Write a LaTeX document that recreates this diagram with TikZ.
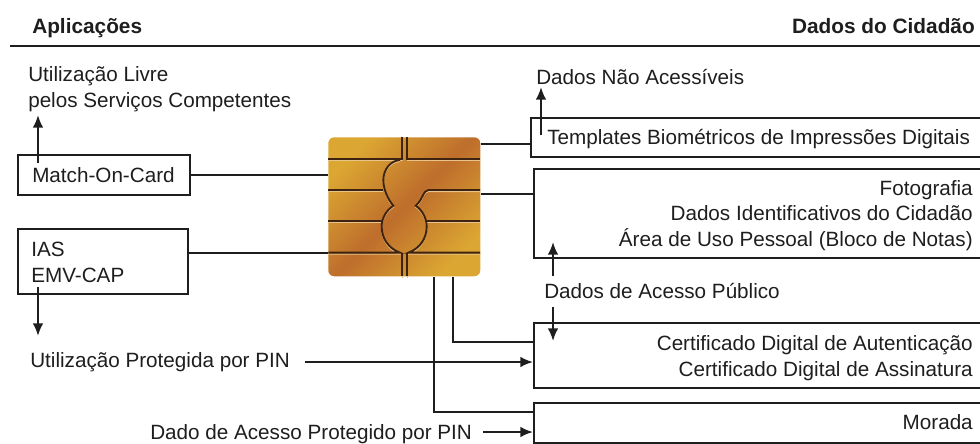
\documentclass[tikz,border=0pt]{standalone}
\usepackage{fontspec}
\setmainfont{Liberation Sans}
\definecolor{ink}{HTML}{1E1E1E}
\definecolor{gold}{HTML}{DBA632}
\definecolor{copper}{HTML}{BE6E2C}
\definecolor{groove}{HTML}{3E2410}
\definecolor{shine}{HTML}{E8C48A}
\tikzset{
  x=0.75pt,y=-0.75pt,
  wire/.style={draw=ink,line width=1.5pt},
  arrowwire/.style={wire,-{Latex[length=9.5pt,width=8pt]}},
  databox/.style={draw=ink,line width=1.5pt,rectangle,inner sep=0pt,anchor=north west},
  label/.style={font=\fontsize{15.5pt}{19pt}\selectfont,text=ink,inner sep=0pt},
  head/.style={font=\bfseries\fontsize{15.6pt}{17pt}\selectfont,text=ink,inner sep=0pt},
  chipline/.style={draw=groove,line width=1.4pt},
  chipshine/.style={draw=shine,line width=0.8pt},
}
\usetikzlibrary{arrows.meta,calc}
\begin{document}
\begin{tikzpicture}
\useasboundingbox (0,0) rectangle (980,443);
% header
\node[head,anchor=base west] (happ) at (32,33.5) {Aplicações};
\node[head,anchor=base east] (hdad) at (975,33.5) {Dados do Cidadão};
\coordinate (ruleL) at (10,45.5); \coordinate (ruleR) at (980,45.5);
\draw[wire] (ruleL) -- (ruleR);
% chip
\node[rectangle,rounded corners=4.5pt,minimum width=114pt,minimum height=104.25pt,inner sep=0pt,anchor=north west,
  left color=gold,right color=gold,middle color=copper,shading angle=45] (chip) at (328,137) {};
\begin{scope}[shift={(300,110)},x=0.25pt,y=-0.25pt]
 \foreach \p/\s in {chipshine/4.5,chipline/0}{
 \begin{scope}[yshift=-\s*0.25pt]
 \draw[\p] (85,148) -- (307,148) -- (307,82);
 \draw[\p] (300,150) .. controls (270,152) and (250,180) .. (250,210) .. controls (250,240) and (265,270) .. (280,287)
   .. controls (258,302) and (245,325) .. (245,350) .. controls (245,385) and (265,415) .. (300,428) -- (85,428);
 \draw[\p] (85,240) -- (250,240);
 \draw[\p] (85,332) -- (246,332);
 \draw[\p] (322,82) -- (322,148) -- (540,148);
 \draw[\p] (540,240) -- (385,240) .. controls (370,240) and (368,270) .. (347,287)
   .. controls (368,302) and (380,325) .. (380,350) .. controls (380,385) and (360,415) .. (325,428) -- (540,428);
 \draw[\p] (382,332) -- (540,332);
 \draw[\p] (307,428) -- (307,498);
 \draw[\p] (322,428) -- (322,498);
 \end{scope}}
\end{scope}
% boxes
\node[databox,minimum width=129pt,minimum height=30pt] (match) at (17,154) {};
\node[databox,minimum width=127.5pt,minimum height=48.75pt] (ias) at (17,228) {};
\node[databox,minimum width=341pt,minimum height=29.25pt] (templ) at (530,117) {};
\node[databox,minimum width=339pt,minimum height=66.75pt] (dados) at (533,168) {};
\node[databox,minimum width=339pt,minimum height=48.75pt] (cert) at (533,322) {};
\node[databox,minimum width=339pt,minimum height=30pt] (morada) at (533,402) {};
% texts
\node[label,anchor=base west,align=left] (livre) at (28,107) {Utilização Livre\\pelos Serviços Competentes};
\node[label,anchor=base west] (mtxt) at (32,182) {Match-On-Card};
\node[label,anchor=base west,align=left] (iastxt) at (31,282) {IAS\\EMV-CAP};
\node[label,anchor=base west] (protpin) at (30,367) {Utilização Protegida por PIN};
\node[label,anchor=base west] (dadopin) at (150,439) {Dado de Acesso Protegido por PIN};
\node[label,anchor=base west] (naoac) at (536,84) {Dados Não Acessíveis};
\node[label,anchor=base west] (ttxt) at (547,144) {Templates Biométricos de Impressões Digitais};
\node[label,anchor=base east,align=right] (ftxt) at (973,246) {Fotografia\\Dados Identificativos do Cidadão\\Área de Uso Pessoal (Bloco de Notas)};
\node[label,anchor=base west] (pub) at (544,298) {Dados de Acesso Público};
\node[label,anchor=base east,align=right] (ctxt) at (973,376) {Certificado Digital de Autenticação\\Certificado Digital de Assinatura};
\node[label,anchor=base east] (mortxt) at (973,429) {Morada};
% connectors
\draw[wire] (match.east) -- (match.east -| chip.west);
\draw[wire] (ias.east |- 0,253) -- (chip.west |- 0,253);
\draw[wire] (chip.east |- 0,144) -- (templ.west |- 0,144);
\draw[wire] (chip.east |- 0,194) -- (dados.west |- 0,194);
\draw[wire] (chip.south -| 434,0) -- (434,412) -- (morada.west |- 0,412);
\draw[wire] (chip.south -| 453,0) -- (453,342) -- (cert.west |- 0,342);
% arrows
\coordinate (a1s) at (38,163); \coordinate (a1e) at (38,115);
\draw[arrowwire] (a1s) -- (a1e);
\coordinate (a2s) at (38,287); \coordinate (a2e) at (38,336);
\draw[arrowwire] (a2s) -- (a2e);
\coordinate (a3s) at (541,135); \coordinate (a3e) at (541,87);
\draw[arrowwire] (a3s) -- (a3e);
\coordinate (a4s) at (553,276); \coordinate (a4e) at (553,242);
\draw[arrowwire] (a4s) -- (a4e);
\coordinate (a5s) at (553,307); \coordinate (a5e) at (553,341);
\draw[arrowwire] (a5s) -- (a5e);
\coordinate (a6s) at (305,362);
\draw[arrowwire] (a6s) -- (cert.west |- a6s);
\coordinate (a7s) at (483,432);
\draw[arrowwire] (a7s) -- (morada.west |- a7s);
\end{tikzpicture}
\end{document}
